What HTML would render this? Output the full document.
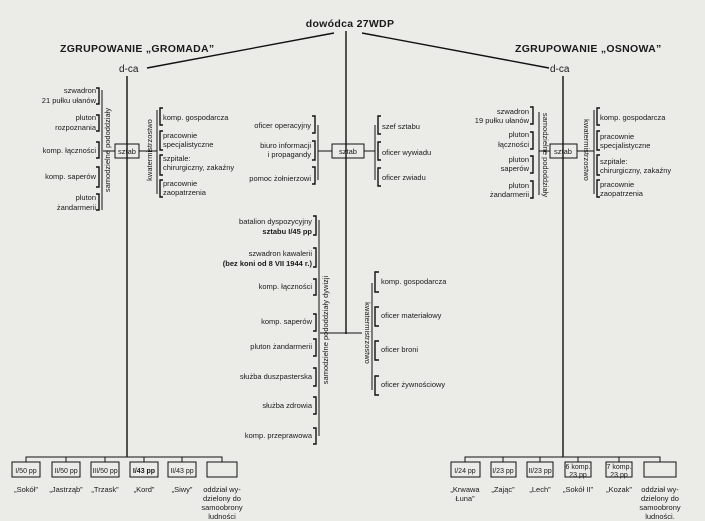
<!DOCTYPE html>
<html><head><meta charset="utf-8"><style>
html,body{margin:0;padding:0;background:#ebebe8;}
svg{display:block;}
text{font-family:"Liberation Sans",sans-serif;font-size:7.5px;fill:#1a1a1a;}
.b{font-weight:bold;}
.h{font-size:10.5px;font-weight:bold;letter-spacing:0.3px;}
.s{font-size:7px;}
.l{stroke:#111;stroke-width:1.4;fill:none;}
.t{stroke:#111;stroke-width:1;fill:none;}
</style></head><body>
<svg width="705" height="521" viewBox="0 0 705 521">
<rect width="705" height="521" fill="#ebebe8"/>
<text x="350" y="27" class="h" text-anchor="middle">dowódca 27WDP</text>
<text x="60" y="52" class="h">ZGRUPOWANIE „GROMADA”</text>
<text x="515" y="52" class="h">ZGRUPOWANIE „OSNOWA”</text>
<line class="l" x1="334" y1="33" x2="147" y2="68"/>
<line class="l" x1="362" y1="33" x2="549" y2="68"/>
<line class="l" x1="346" y1="31" x2="346" y2="334"/>
<text x="119" y="72" style="font-size:10px">d-ca</text>
<text x="550" y="72" style="font-size:10px">d-ca</text>
<line class="l" x1="127" y1="76" x2="127" y2="457"/>
<line class="l" x1="563" y1="76" x2="563" y2="457"/>

<rect x="115" y="144" width="24" height="14" class="t" fill="#f4f4f2"/>
<text x="127" y="154" text-anchor="middle">sztab</text>
<line class="t" x1="103" y1="151" x2="115" y2="151"/>
<line class="t" x1="139" y1="151" x2="157" y2="151"/>
<line class="t" x1="102" y1="90" x2="102" y2="210"/>
<g text-anchor="end">
<text x="96" y="93">szwadron</text><text x="96" y="103">21 pułku ułanów</text>
<text x="96" y="120">pluton</text><text x="96" y="130">rozpoznania</text>
<text x="96" y="153">komp. łączności</text>
<text x="96" y="179">komp. saperów</text>
<text x="96" y="200">pluton</text><text x="96" y="210">żandarmerii</text>
</g>
<path class="l" d="M96,88H99V104H96M96,115H99V131H96M96,142H99V158H96M96,167H99V187H96M96,194H99V210H96"/>
<text transform="translate(110,150) rotate(-90)" text-anchor="middle">samodzielne pododdziały</text>
<text transform="translate(152,150) rotate(-90)" text-anchor="middle">kwatermistrzostwo</text>
<line class="t" x1="157" y1="110" x2="157" y2="194"/>
<path class="l" d="M163,108H160V125H163M163,131H160V150H163M163,155H160V175H163M163,180H160V197H163"/>
<text x="163" y="120">komp. gospodarcza</text>
<text x="163" y="138">pracownie</text><text x="163" y="147">specjalistyczne</text>
<text x="163" y="161">szpitale:</text><text x="163" y="170">chirurgiczny, zakaźny</text>
<text x="163" y="186">pracownie</text><text x="163" y="195">zaopatrzenia</text>

<rect x="332" y="144" width="32" height="14" class="t" fill="#f4f4f2"/>
<text x="348" y="154" text-anchor="middle">sztab</text>
<line class="t" x1="318" y1="151" x2="332" y2="151"/>
<line class="t" x1="364" y1="151" x2="375" y2="151"/>
<line class="t" x1="318" y1="125" x2="318" y2="180"/>
<path class="l" d="M312,116H315V133H312M312,141H315V160H312M312,167H315V184H312"/>
<g text-anchor="end">
<text x="311" y="128">oficer operacyjny</text>
<text x="311" y="148">biuro informacji</text><text x="311" y="157">i propagandy</text>
<text x="311" y="181">pomoc żołnierzowi</text>
</g>
<line class="t" x1="375" y1="125" x2="375" y2="180"/>
<path class="l" d="M381,116H378V134H381M381,142H378V160H381M381,168H378V186H381"/>
<text x="382" y="129">szef sztabu</text>
<text x="382" y="155">oficer wywiadu</text>
<text x="382" y="180">oficer zwiadu</text>

<line class="t" x1="319" y1="220" x2="319" y2="436"/>
<path class="l" d="M313,216H316V235H313M313,248H316V267H313M313,279H316V295H313M313,314H316V331H313M313,339H316V356H313M313,368H316V386H313M313,397H316V414H313M313,428H316V444H313"/>
<g text-anchor="end">
<text x="312" y="224">batalion dyspozycyjny</text><text x="312" y="234" class="b">sztabu I/45 pp</text>
<text x="312" y="256">szwadron kawalerii</text><text x="312" y="266" class="b">(bez koni od 8 VII 1944 r.)</text>
<text x="312" y="289">komp. łączności</text>
<text x="312" y="324">komp. saperów</text>
<text x="312" y="349">pluton żandarmerii</text>
<text x="312" y="379">służba duszpasterska</text>
<text x="312" y="408">służba zdrowia</text>
<text x="312" y="438">komp. przeprawowa</text>
</g>
<text transform="translate(328,330) rotate(-90)" text-anchor="middle">samodzielne pododdziały dywizji</text>
<line class="t" x1="320" y1="333" x2="362" y2="333"/>
<text transform="translate(365,333) rotate(90)" text-anchor="middle">kwatermistrzostwo</text>
<line class="t" x1="372" y1="283" x2="372" y2="390"/>
<path class="l" d="M379,272H375V292H379M379,307H375V326H379M379,341H375V360H379M379,376H375V395H379"/>
<text x="381" y="284">komp. gospodarcza</text>
<text x="381" y="318">oficer materiałowy</text>
<text x="381" y="352">oficer broni</text>
<text x="381" y="387">oficer żywnościowy</text>

<rect x="550" y="144" width="27" height="14" class="t" fill="#f4f4f2"/>
<text x="563" y="154" text-anchor="middle">sztab</text>
<line class="t" x1="539" y1="151" x2="550" y2="151"/>
<line class="t" x1="577" y1="151" x2="594" y2="151"/>
<line class="t" x1="539" y1="112" x2="539" y2="195"/>
<path class="l" d="M530,107H533V124H530M530,132H533V149H530M530,156H533V173H530M530,181H533V198H530"/>
<g text-anchor="end">
<text x="529" y="114">szwadron</text><text x="529" y="123">19 pułku ułanów</text>
<text x="529" y="137">pluton</text><text x="529" y="147">łączności</text>
<text x="529" y="162">pluton</text><text x="529" y="171">saperów</text>
<text x="529" y="188">pluton</text><text x="529" y="197">żandarmerii</text>
</g>
<text transform="translate(543,155) rotate(90)" text-anchor="middle">samodzielne pododdziały</text>
<text transform="translate(584,150) rotate(90)" text-anchor="middle">kwatermistrzostwo</text>
<line class="t" x1="594" y1="110" x2="594" y2="194"/>
<path class="l" d="M600,108H597V125H600M600,131H597V150H600M600,155H597V175H600M600,180H597V197H600"/>
<text x="600" y="120">komp. gospodarcza</text>
<text x="600" y="139">pracownie</text><text x="600" y="148">specjalistyczne</text>
<text x="600" y="164">szpitale:</text><text x="600" y="173">chirurgiczny, zakaźny</text>
<text x="600" y="187">pracownie</text><text x="600" y="196">zaopatrzenia</text>

<path class="t" d="M26,462V457H222V462M66,457V462M105,457V462M144,457V462M182,457V462"/>
<g class="t" fill="#f4f4f2">
<rect x="12" y="462" width="28" height="15"/><rect x="52" y="462" width="28" height="15"/>
<rect x="91" y="462" width="28" height="15"/><rect x="130" y="462" width="28" height="15"/>
<rect x="168" y="462" width="28" height="15"/><rect x="207" y="462" width="30" height="15"/>
</g>
<g text-anchor="middle">
<text x="26" y="473" class="s">I/50 pp</text><text x="66" y="473" class="s">II/50 pp</text><text x="105" y="473" class="s">III/50 pp</text>
<text x="144" y="473" class="s b">I/43 pp</text><text x="182" y="473" class="s">II/43 pp</text>
<text x="26" y="492">„Sokół”</text><text x="66" y="492">„Jastrząb”</text><text x="105" y="492">„Trzask”</text>
<text x="144" y="492">„Kord”</text><text x="182" y="492">„Siwy”</text>
<text x="222" y="492">oddział wy-</text><text x="222" y="501">dzielony do</text><text x="222" y="510">samoobrony</text><text x="222" y="519">ludności</text>
</g>

<path class="t" d="M465,462V457H660V462M503,457V462M540,457V462M578,457V462M619,457V462"/>
<g class="t" fill="#f4f4f2">
<rect x="451" y="462" width="29" height="15"/><rect x="491" y="462" width="25" height="15"/>
<rect x="527" y="462" width="26" height="15"/><rect x="565" y="462" width="26" height="15"/>
<rect x="606" y="462" width="26" height="15"/><rect x="644" y="462" width="32" height="15"/>
</g>
<g text-anchor="middle">
<text x="465" y="473" class="s">I/24 pp</text><text x="503" y="473" class="s">I/23 pp</text><text x="540" y="473" class="s">II/23 pp</text>
<text x="578" y="469" class="s">6 komp.</text><text x="578" y="477" class="s">23 pp</text>
<text x="619" y="469" class="s">7 komp.</text><text x="619" y="477" class="s">23 pp</text>
<text x="465" y="492">„Krwawa</text><text x="465" y="501">Łuna”</text>
<text x="503" y="492">„Zając”</text><text x="540" y="492">„Lech”</text>
<text x="578" y="492">„Sokół II”</text><text x="619" y="492">„Kozak”</text>
<text x="660" y="492">oddział wy-</text><text x="660" y="501">dzielony do</text><text x="660" y="510">samoobrony</text><text x="660" y="519">ludności.</text>
</g>
</svg>
</body></html>
